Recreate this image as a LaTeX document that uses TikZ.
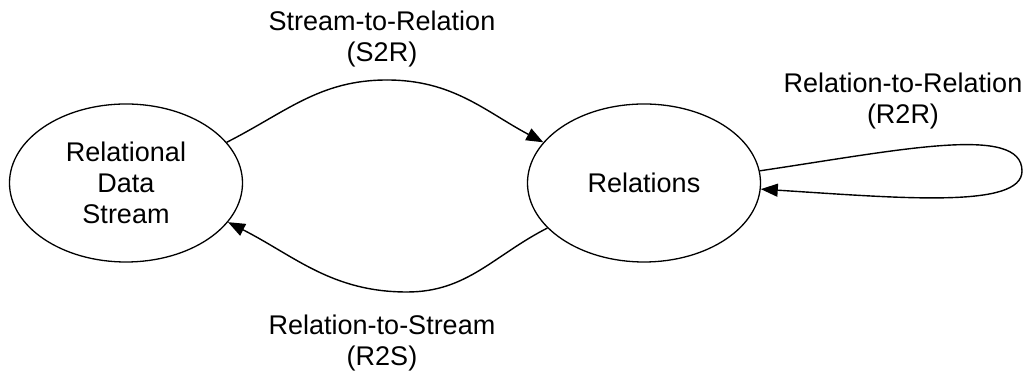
\documentclass[tikz,border=0pt]{standalone}
\usepackage{fontspec}
\setmainfont{Liberation Sans}
\usetikzlibrary{arrows.meta,shapes.geometric}

\begin{document}
\begin{tikzpicture}[x=0.5pt,y=0.5pt,
        every node/.style={font=\fontsize{13.5}{15.5}\selectfont},
        state/.style={ellipse,draw,line width=0.65pt,minimum width=116.5pt,
                      minimum height=79pt,inner sep=0pt,align=center},
        lbl/.style={align=center,inner sep=0pt},
        flow/.style={line width=0.7pt,-{Triangle[length=8.5pt,width=6.5pt]}}]
        \useasboundingbox (0,0) rectangle (1024,374);
        \node[state] (rds) at (126,191) {Relational\\Data\\Stream};
        \node[state] (rel) at (644,191) {Relations};
        \node[lbl] (s2r) at (382,334.5) {Stream-to-Relation\\(S2R)};
        \node[lbl] (r2r) at (903,272.5) {Relation-to-Relation\\(R2R)};
        \node[lbl] (r2s) at (382,31) {Relation-to-Stream\\(R2S)};
        \coordinate (s2rtop) at (387,294);
        \coordinate (r2sbot) at (407,82);
        \coordinate (r2rtip) at (1022,203);
        \draw[line width=0.7pt] (rds.22) to[out=27,in=180] (s2rtop);
        \draw[flow] (s2rtop) to[out=0,in=152] (rel.158);
        \draw[line width=0.7pt] (rel.205) to[out=207,in=0] (r2sbot);
        \draw[flow] (r2sbot) to[out=180,in=-27] (rds.-21.4);
        \draw[line width=0.7pt] (rel.6.4) .. controls (900,224) and (1022,250) .. (r2rtip);
        \draw[flow] (r2rtip) .. controls (1022,165) and (900,176) .. (rel.-3.5);
\end{tikzpicture}
\end{document}
